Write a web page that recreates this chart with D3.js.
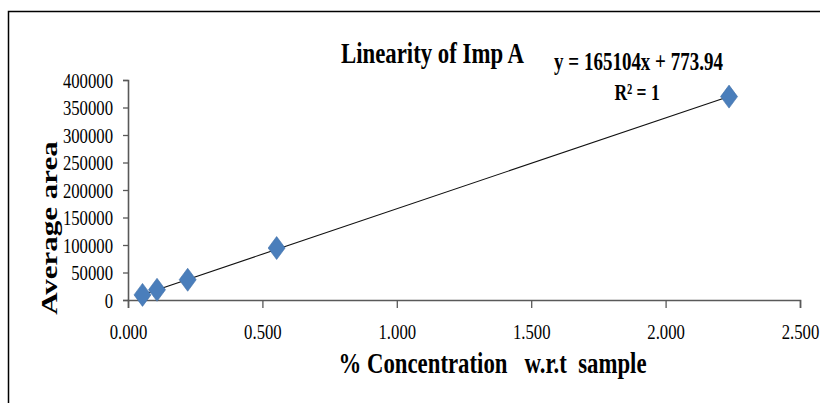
<!DOCTYPE html>
<html><head><meta charset="utf-8">
<script src="https://cdn.jsdelivr.net/npm/d3@7"></script>
<style>
html,body{margin:0;padding:0;background:#fff;}
svg{display:block;}
text{font-family:"Liberation Serif","Times New Roman",serif;fill:#000;}
</style></head>
<body>
<svg id="c" width="820" height="403"></svg>
<script>
// Data
const concentration = [0.054, 0.108, 0.222, 0.553, 2.236];
const averageArea = [9300, 18600, 36800, 94500, 369800];
const slope = 165104, intercept = 773.94;
const xTicks = [0, 0.5, 1.0, 1.5, 2.0, 2.5];
const yTicks = [0, 50000, 100000, 150000, 200000, 250000, 300000, 350000, 400000];
const titleText = "Linearity of Imp A";
const eqText = "y = 165104x + 773.94";
const r2Text = "R² = 1";
const xTitle = "% Concentration   w.r.t  sample";
const yTitle = "Average area";

const svg = d3.select("#c");
const SQ = 0.76; // horizontal squeeze of the original rendering

// frame
svg.append("path").attr("d","M8.5,404 L8.5,11.5 L821,11.5").attr("fill","none").attr("stroke","#000").attr("stroke-width",1.5);

const x = d3.scaleLinear().domain([0,2.5]).range([128,800]);
const y = d3.scaleLinear().domain([0,400000]).range([300,80]);

// squeeze text horizontally by a transform, keeping its anchor point
function squeeze(sel){
  sel.each(function(){
    const t = d3.select(this);
    const px = +(t.attr("x")||0), py = +(t.attr("y")||0);
    t.attr("x",0).attr("y",0).attr("transform",`translate(${px},${py}) scale(${SQ},1)`);
  });
}

// y axis
const gy = svg.append("g").attr("transform","translate(128,0)")
  .call(d3.axisLeft(y).tickValues(yTicks).tickSize(5).tickPadding(10).tickFormat(d3.format("d")));
gy.selectAll("text").style("font-size","22px").attr("dy","0.34em").call(squeeze);
// x axis
const gx = svg.append("g").attr("transform","translate(0,300)")
  .call(d3.axisBottom(x).tickValues(xTicks).tickSize(8).tickPadding(15).tickFormat(d3.format(".3f")));
gx.selectAll("text").style("font-size","22px").attr("dy","0.71em").call(squeeze);
[gx,gy].forEach(g=>{
  g.select(".domain").attr("stroke","#595959").attr("stroke-width",1.6);
  g.selectAll(".tick line").attr("stroke","#595959").attr("stroke-width",1.3);
});

// trendline
const xmin = d3.min(concentration), xmax = d3.max(concentration);
svg.append("line")
  .attr("x1",x(xmin)).attr("y1",y(slope*xmin+intercept))
  .attr("x2",x(xmax)).attr("y2",y(slope*xmax+intercept))
  .attr("stroke","#111").attr("stroke-width",1.1);

// diamonds
const hw = 8.5, hh = 11.5;
svg.append("g").selectAll("path").data(concentration.map((c,i)=>[c,averageArea[i]])).join("path")
  .attr("d",d=>{const cx=x(d[0]), cy=y(d[1]);return `M${cx},${cy-hh}L${cx+hw},${cy}L${cx},${cy+hh}L${cx-hw},${cy}Z`;})
  .attr("fill","#4a7ebb").attr("stroke","#3f6fa8").attr("stroke-width",0.6);

// texts
function txt(s, px, py, size, anchor){
  const t = svg.append("text").attr("x",px).attr("y",py).attr("text-anchor",anchor||"middle")
    .style("font-size",size+"px").style("font-weight","bold").style("white-space","pre").text(s);
  squeeze(t);
  return t;
}
txt(titleText, 432.5, 63, 30);
txt(eqText, 638.5, 70, 25);
txt(r2Text, 637, 100, 23);
txt(xTitle, 492.5, 373, 30);

// y title rotated
svg.append("text").attr("transform","translate(57,228) scale("+SQ+",1) rotate(-90)")
  .attr("text-anchor","middle").style("font-size","31px").style("font-weight","bold").text(yTitle);
</script>
</body></html>
